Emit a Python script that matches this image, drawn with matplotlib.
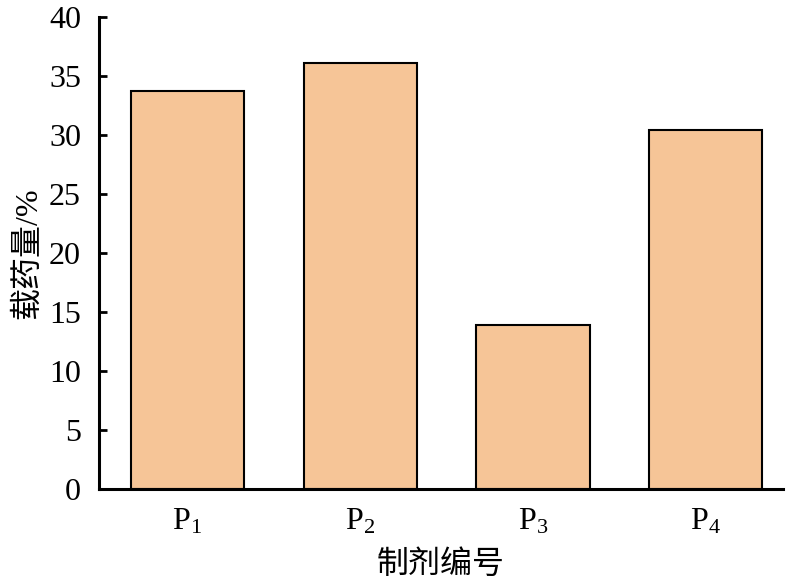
import matplotlib
matplotlib.use('Agg')
import matplotlib.pyplot as plt

plt.rcParams['font.family'] = ['Liberation Serif', 'Noto Sans CJK SC']
plt.rcParams['mathtext.fontset'] = 'custom'
plt.rcParams['mathtext.rm'] = 'Liberation Serif'

# data
labels = ['$\\mathregular{P_1}$', '$\\mathregular{P_2}$', '$\\mathregular{P_3}$', '$\\mathregular{P_4}$']
values = [33.7, 36.1, 13.9, 30.4]
yticks = [0, 5, 10, 15, 20, 25, 30, 35, 40]

fig = plt.figure(figsize=(7.93, 5.86), dpi=100)
ax = fig.add_axes([0.125, 0.1655, 0.862, 0.8055])

x = range(len(values))
ax.bar(x, values, width=0.655, color='#F6C597', edgecolor='black', linewidth=1.5, zorder=2)

ax.set_xlim(-0.51, 3.445)
ax.set_ylim(0, 40)
ax.set_yticks(yticks)
ax.set_xticks(list(x))
ax.set_xticklabels(labels)

for s in ['top', 'right']:
    ax.spines[s].set_visible(False)
for s in ['left', 'bottom']:
    ax.spines[s].set_linewidth(2.2)
    ax.spines[s].set_zorder(3)

ax.tick_params(axis='both', direction='in', width=2, length=6, labelsize=23, zorder=3)
ax.tick_params(axis='x', pad=13)
ax.tick_params(axis='y', pad=13)

ax.set_ylabel('载药量/%', fontsize=23, labelpad=4)
ax.set_xlabel('制剂编号', fontsize=23, labelpad=10)

plt.savefig('out.png', dpi=100)
